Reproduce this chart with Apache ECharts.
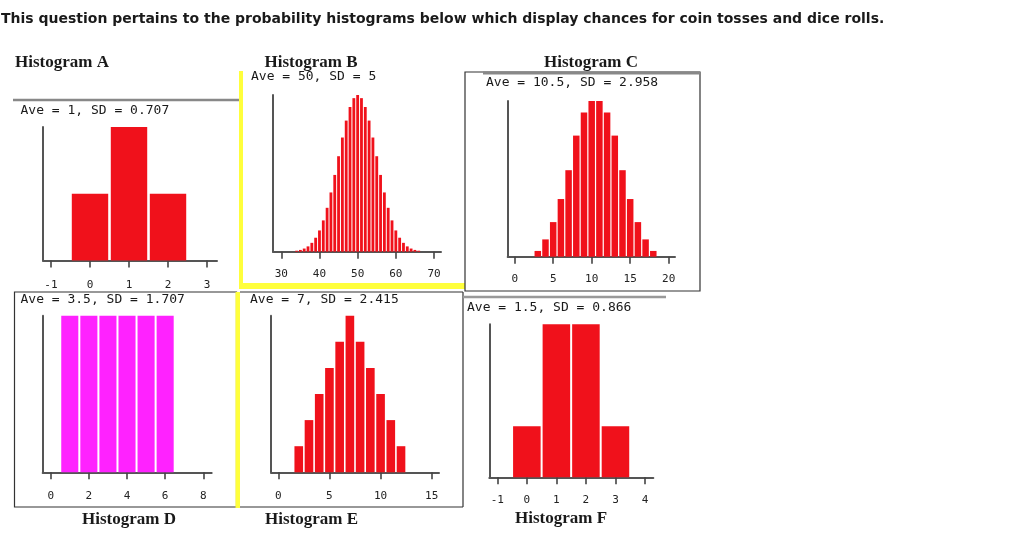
<!DOCTYPE html>
<html>
<head>
<meta charset="utf-8">
<script src="https://cdn.jsdelivr.net/npm/echarts@6/dist/echarts.min.js"></script>
<style>
html,body{margin:0;padding:0;background:#fff;}
#chart{width:1024px;height:550px;}
</style>
</head>
<body>
<div id="chart"></div>
<script>
// ---- data ----
const questionText = 'This question pertains to the probability histograms below which display chances for coin tosses and dice rolls.';
const panelTitles = ['Histogram A', 'Histogram B', 'Histogram C', 'Histogram D', 'Histogram E', 'Histogram F'];
const statTexts = ['Ave = 1, SD = 0.707', 'Ave = 50, SD = 5', 'Ave = 10.5, SD = 2.958',
                   'Ave = 3.5, SD = 1.707', 'Ave = 7, SD = 2.415', 'Ave = 1.5, SD = 0.866'];

const aX = [0, 1, 2];
const aP = [0.25, 0.5, 0.25];

const bX = [34,35,36,37,38,39,40,41,42,43,44,45,46,47,48,49,50,51,52,53,54,55,56,57,58,59,60,61,62,63,64,65,66];
const bP = [0.0005,0.0009,0.0016,0.0027,0.0045,0.0071,0.0108,0.0159,0.0223,0.0301,0.0390,0.0485,0.0580,0.0666,0.0735,0.0780,0.0796,
            0.0780,0.0735,0.0666,0.0580,0.0485,0.0390,0.0301,0.0223,0.0159,0.0108,0.0071,0.0045,0.0027,0.0016,0.0009,0.0005];

const cX = [3,4,5,6,7,8,9,10,11,12,13,14,15,16,17,18];
const cP = [1,3,6,10,15,21,25,27,27,25,21,15,10,6,3,1];

const dX = [1,2,3,4,5,6];
const dP = [1,1,1,1,1,1];

const eX = [2,3,4,5,6,7,8,9,10,11,12];
const eP = [1,2,3,4,5,6,5,4,3,2,1];

const fX = [0,1,2,3];
const fP = [1,3,3,1];

const aTicks = [-1,0,1,2,3];
const bTicks = [30,40,50,60,70];
const cTicks = [0,5,10,15,20];
const dTicks = [0,2,4,6,8];
const eTicks = [0,5,10,15];
const fTicks = [-1,0,1,2,3,4];

// ---- layout ----
const RED = '#f0111b', MAGENTA = '#ff22ff', YELLOW = '#ffff3c';
const panels = [
  {x: aX, p: aP, ticks: aTicks, color: RED, gap: 1.3, left: 43, right: 217, top: 127, bottom: 260.5, min: -1.205, max: 3.256, margin: 19},
  {x: bX, p: bP, ticks: bTicks, color: RED, gap: 0.5, left: 273, right: 441, top: 95, bottom: 251.7, min: 27.83, max: 71.83, margin: 17},
  {x: cX, p: cP, ticks: cTicks, color: RED, gap: 0.6, left: 507.7, right: 675, top: 101, bottom: 256.7, min: -0.909, max: 20.82, margin: 17},
  {x: dX, p: dP, ticks: dTicks, color: MAGENTA, gap: 1, left: 42.7, right: 211.7, top: 315.7, bottom: 472.3, min: -0.42, max: 8.44, margin: 18.5},
  {x: eX, p: eP, ticks: eTicks, color: RED, gap: 0.8, left: 271, right: 439, top: 315.7, bottom: 472.3, min: -0.714, max: 15.714, margin: 18.5},
  {x: fX, p: fP, ticks: fTicks, color: RED, gap: 1, left: 489.3, right: 653.3, top: 324.3, bottom: 477.3, min: -1.271, max: 4.281, margin: 17.5}
];

const grids = [], xAxes = [], yAxes = [], series = [];
panels.forEach(function (pn, i) {
  grids.push({left: pn.left, top: pn.top, width: pn.right - pn.left, height: pn.bottom - pn.top, containLabel: false});
  xAxes.push({
    type: 'value', gridIndex: i, min: pn.min, max: pn.max,
    axisLine: {show: true, onZero: false, lineStyle: {color: '#555', width: 2}},
    axisTick: {show: true, customValues: pn.ticks, length: 7, inside: false, lineStyle: {color: '#444', width: 1.6}},
    axisLabel: {show: true, customValues: pn.ticks, margin: pn.margin, color: '#222',
                fontFamily: 'DejaVu Sans Mono', fontSize: 11, formatter: function (v) { return String(v); }},
    splitLine: {show: false}
  });
  yAxes.push({
    type: 'value', gridIndex: i, min: 0, max: Math.max.apply(null, pn.p),
    axisLine: {show: true, onZero: false, lineStyle: {color: '#555', width: 2}},
    axisTick: {show: false}, axisLabel: {show: false}, splitLine: {show: false}
  });
  const gap = pn.gap, color = pn.color;
  series.push({
    type: 'custom', xAxisIndex: i, yAxisIndex: i, silent: true,
    data: pn.x.map(function (v, k) { return [v, pn.p[k]]; }),
    renderItem: function (params, api) {
      const xv = api.value(0), yv = api.value(1);
      const p0 = api.coord([xv - 0.5, yv]);
      const p1 = api.coord([xv + 0.5, 0]);
      return {
        type: 'rect',
        shape: {x: p0[0] + gap, y: p0[1], width: p1[0] - p0[0] - 2 * gap, height: p1[1] - p0[1]},
        style: {fill: color}
      };
    }
  });
});

function line(x1, y1, x2, y2, color, w) {
  return {type: 'line', silent: true, z: 1, shape: {x1: x1, y1: y1, x2: x2, y2: y2}, style: {stroke: color, lineWidth: w}};
}
function rect(x, y, w, h, fill) {
  return {type: 'rect', silent: true, z: 1, shape: {x: x, y: y, width: w, height: h}, style: {fill: fill}};
}
function txt(s, x, y, font, align) {
  return {type: 'text', silent: true, z: 5, style: {text: s, x: x, y: y, font: font, fill: '#1a1a1a', textAlign: align || 'left', textVerticalAlign: 'middle'}};
}

const serif = 'bold 17px "Liberation Serif"';
const mono = '13px "DejaVu Sans Mono"';
const graphics = [
  txt(questionText, 1, 19, 'bold 14px "DejaVu Sans"'),
  // panel decorations
  line(13, 100, 240, 100, '#888', 2.5),               // A top rule
  rect(239, 71, 4, 218, YELLOW),                      // B yellow left
  rect(239, 283, 226, 6, YELLOW),                     // B yellow bottom
  {type: 'rect', silent: true, z: 1, shape: {x: 465, y: 72, width: 235, height: 219}, style: {fill: 'none', stroke: '#333', lineWidth: 1.2}}, // C box
  line(483, 73, 700, 73, '#888', 3),                  // C top rule
  {type: 'rect', silent: true, z: 1, shape: {x: 14.5, y: 292, width: 222, height: 215}, style: {fill: 'none', stroke: '#333', lineWidth: 1.2}}, // D box
  line(240, 292, 463, 292, '#333', 1.2),              // E box top
  line(463, 292, 463, 507, '#333', 1.2),              // E box right
  line(240, 507, 463, 507, '#333', 1.2),              // E box bottom
  rect(235.5, 292, 4.5, 216, YELLOW),                 // E yellow left
  line(463, 297, 666, 297, '#999', 2.5),              // F top rule
  // panel titles
  txt(panelTitles[0], 15, 63, serif),
  txt(panelTitles[1], 311, 63, serif, 'center'),
  txt(panelTitles[2], 591, 63, serif, 'center'),
  txt(panelTitles[3], 129, 520, serif, 'center'),
  txt(panelTitles[4], 311.5, 520, serif, 'center'),
  txt(panelTitles[5], 561, 519, serif, 'center'),
  // stats
  txt(statTexts[0], 20.5, 110.5, mono),
  txt(statTexts[1], 251, 76.5, mono),
  txt(statTexts[2], 486, 83, mono),
  txt(statTexts[3], 20.5, 300, mono),
  txt(statTexts[4], 250, 299.5, mono),
  txt(statTexts[5], 467, 308, mono)
];

const chart = echarts.init(document.getElementById('chart'), null, {renderer: 'canvas'});
chart.setOption({
  animation: false,
  backgroundColor: '#fff',
  grid: grids,
  xAxis: xAxes,
  yAxis: yAxes,
  series: series,
  graphic: graphics
});
</script>
</body>
</html>
